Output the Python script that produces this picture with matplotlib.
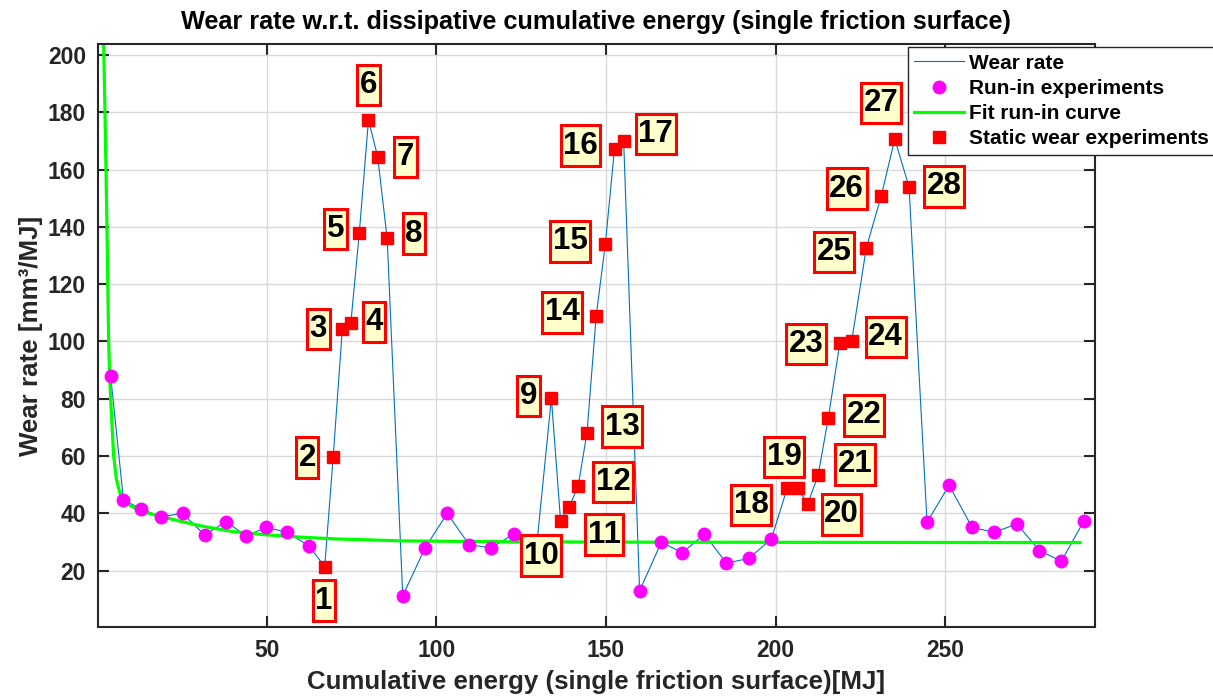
import matplotlib
matplotlib.use('Agg')
import matplotlib.pyplot as plt
from matplotlib.path import Path

# ---------------- data ----------------
runin_x = [4.0, 7.8, 13.1, 18.9, 25.2, 31.7, 38.1, 43.9, 49.8, 56.1, 62.5,
           90.1, 96.6, 103.2, 109.7, 116.2, 122.8, 129.3,
           159.9, 166.3, 172.5, 179.0, 185.5, 192.1, 198.7,
           244.6, 251.1, 257.9, 264.4, 271.1, 277.7, 284.2, 290.9]
runin_y = [88.0, 44.7, 41.5, 38.8, 40.0, 32.5, 37.1, 32.1, 35.1, 33.4, 28.6,
           11.2, 27.8, 40.0, 29.0, 28.0, 32.8, 25.5,
           13.0, 29.9, 26.3, 32.7, 22.6, 24.3, 31.0,
           36.9, 49.8, 35.1, 33.4, 36.3, 27.0, 23.3, 37.5]

static_x = [67.1, 69.6, 72.3, 74.8, 77.3, 80.0, 82.7, 85.5,
            133.9, 136.6, 139.2, 141.8, 144.4, 147.1, 149.8, 152.5, 155.2,
            203.4, 206.6, 209.4, 212.5, 215.5, 218.9, 222.4, 226.7, 231.1, 235.1, 239.3]
static_y = [21.4, 59.8, 104.4, 106.4, 138.0, 177.3, 164.5, 136.0,
            80.2, 37.5, 42.3, 49.6, 68.2, 108.9, 134.0, 167.2, 169.9,
            48.8, 48.8, 43.2, 53.3, 73.2, 99.4, 100.2, 132.6, 150.8, 170.6, 153.9]
static_labels = [str(i) for i in range(1, 29)]

fit_x = [1.9, 1.96, 2.34, 2.64, 2.93, 3.17, 3.43, 3.72, 4.02, 4.9, 5.7, 6.76,
         8.7, 12.2, 17.1, 20.5, 25.4, 31.6, 40.2, 50.0, 60.0, 70.0, 90.0,
         120.0, 160.0, 200.0, 250.0, 289.7]
fit_y = [207.0, 203.6, 180.0, 160.0, 140.0, 120.0, 100.0, 88.0, 80.0, 60.0, 52.0, 47.0,
         43.5, 41.2, 39.4, 38.4, 37.0, 35.4, 33.6, 32.5, 31.7, 31.1, 30.4,
         30.1, 29.95, 29.9, 29.85, 29.8]

x_ticks = [50, 100, 150, 200, 250]
y_ticks = [20, 40, 60, 80, 100, 120, 140, 160, 180, 200]

# label placement (pixel offsets from each static point) - layout only
label_offsets_px = [(-1, -34), (-26, -1), (-24, 0), (23, 1), (-24, 3.5), (0, 35),
                    (28, -0.5), (27, 4.6), (-23, 2), (-19.5, -35), (35, -28),
                    (35, 4), (35, 6), (-34, 3.7), (-35, 2.7), (-34, 3.3), (32, 7),
                    (-36, -16.7), (-14, 31), (34, -10), (37, 11), (36, 3),
                    (-34, -1), (34, 4), (-32, -4), (-34.5, 7.3), (-14, 36), (35, 0.7)]


def label_box(x0, y0, width, height, mutation_size):
    """Rectangle with different horizontal / vertical margins (MATLAB-like)."""
    padx = 0.08 * mutation_size
    pady = 0.17 * mutation_size
    x0, y0 = x0 - padx, y0 - pady
    x1, y1 = x0 + width + 2 * padx, y0 + height + 2 * pady
    return Path([(x0, y0), (x1, y0), (x1, y1), (x0, y1), (x0, y0)],
                [Path.MOVETO, Path.LINETO, Path.LINETO, Path.LINETO, Path.CLOSEPOLY])


# ---------------- figure ----------------
plt.rcParams['font.family'] = ['Liberation Sans', 'DejaVu Sans']
plt.rcParams['font.weight'] = 'bold'

W, H = 1213, 696
fig = plt.figure(figsize=(W / 100, H / 100), dpi=100)
ax_l, ax_r, ax_t, ax_b = 97.7, 1095, 44.3, 627.3
ax = fig.add_axes([ax_l / W, 1 - ax_b / H, (ax_r - ax_l) / W, (ax_b - ax_t) / H])

wear = sorted(zip(runin_x + static_x, runin_y + static_y))
wx = [p[0] for p in wear]
wy = [p[1] for p in wear]

h_line, = ax.plot(wx, wy, color='#0072BD', lw=0.8, zorder=2, label='Wear rate')
h_fit, = ax.plot(fit_x, fit_y, color='#00FF00', lw=2.3, zorder=2.5,
                 label='Fit run-in curve')
h_run, = ax.plot(runin_x, runin_y, ls='none', marker='o', ms=9, color='#FF00FF',
                 mec='#FF00FF', zorder=3, label='Run-in experiments')
h_sta, = ax.plot(static_x, static_y, ls='none', marker='s', ms=9, color='#FF0000',
                 mec='#FF0000', zorder=3, label='Static wear experiments')

for x, y, lab, off in zip(static_x, static_y, static_labels, label_offsets_px):
    ax.annotate(lab, (x, y), xytext=off, textcoords='offset pixels',
                ha='center', va='center', fontsize=22.5, fontweight='bold',
                color='black', zorder=6,
                bbox=dict(boxstyle=label_box, fc='#FFFFCC', ec='#FF0000', lw=2.2))

ax.set_xlim(0.2, 294.1)
ax.set_ylim(0.24, 203.7)
ax.set_xticks(x_ticks)
ax.set_yticks(y_ticks)
ax.tick_params(direction='in', length=8, width=1.5, top=True, right=True,
               labelsize=16.5, pad=8.5, colors='#262626')
for lab in ax.get_xticklabels() + ax.get_yticklabels():
    lab.set_fontweight('bold')
for sp in ax.spines.values():
    sp.set_linewidth(1.5)
    sp.set_color('#262626')
ax.grid(True, color='#d9d9d9', lw=1.0)
ax.set_axisbelow(True)

ax.set_title('Wear rate w.r.t. dissipative cumulative energy (single friction surface)',
             fontsize=18.2, fontweight='bold', color='black', pad=11)
ax.set_xlabel('Cumulative energy (single friction surface)[MJ]', fontsize=18.6,
              fontweight='bold', color='#262626', labelpad=6)
ax.set_ylabel('Wear rate [mm³/MJ]', fontsize=18.6, fontweight='bold',
              color='#262626', labelpad=3)

leg = fig.legend(handles=[h_line, h_run, h_fit, h_sta],
                 loc='upper left', bbox_to_anchor=(907.7 / W, 1 - 47.3 / H),
                 borderaxespad=0, frameon=True, fancybox=False,
                 framealpha=1, edgecolor='#262626', borderpad=0.3,
                 labelspacing=0.3, handlelength=2.4, handletextpad=0.24,
                 prop={'weight': 'bold', 'size': 15})
leg.get_frame().set_linewidth(1.0)
leg.set_zorder(10)

fig.savefig('out.png', dpi=100)
